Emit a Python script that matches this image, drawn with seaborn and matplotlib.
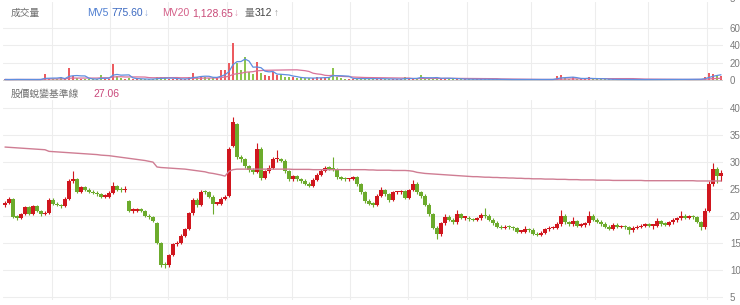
import numpy as np
import pandas as pd
import matplotlib
matplotlib.use("Agg")
import matplotlib.pyplot as plt
import seaborn as sns

# ---------------- data ----------------
opens = [22.0, 22.5, 23.2, 19.9, 19.7, 20.3, 21.6, 20.4, 21.8, 21.0,
         20.3, 20.6, 23.0, 22.3, 22.0, 21.8, 23.2, 26.5, 26.8, 24.5,
         25.3, 24.9, 24.5, 24.3, 24.0, 23.6, 23.6, 24.3, 25.5, 24.9,
         24.8, 22.8, 21.0, 21.0, 21.2, 21.0, 20.0, 19.8, 18.6, 15.0,
         10.9, 10.8, 12.8, 14.7, 15.0, 16.3, 17.5, 20.5, 23.0, 22.0,
         24.5, 24.4, 23.6, 22.3, 22.3, 23.2, 23.8, 33.0, 37.0, 31.0,
         30.5, 29.2, 28.5, 28.1, 32.5, 27.0, 28.3, 29.0, 30.5, 30.5,
         30.3, 28.3, 26.8, 27.4, 26.8, 26.5, 26.0, 25.6, 26.7, 27.6,
         28.4, 29.0, 28.8, 28.6, 27.2, 26.9, 26.8, 26.8, 27.2, 25.9,
         24.4, 22.8, 22.3, 22.1, 23.8, 24.8, 24.0, 22.9, 24.4, 24.4,
         24.6, 23.4, 24.8, 26.0, 24.4, 23.7, 22.1, 20.3, 17.8, 16.6,
         18.6, 19.8, 19.3, 18.8, 20.3, 19.7, 19.7, 19.4, 19.3, 19.6,
         20.2, 20.0, 19.3, 18.7, 18.0, 17.8, 18.0, 17.9, 17.7, 17.1,
         17.1, 17.5, 17.4, 16.7, 16.5, 16.9, 17.5, 17.8, 17.8, 18.5,
         20.0, 18.8, 18.5, 19.0, 18.2, 18.3, 18.6, 20.0, 19.3, 18.9,
         18.5, 18.0, 17.6, 18.3, 18.0, 18.0, 17.9, 17.3, 17.8, 18.0,
         18.2, 18.3, 18.2, 18.2, 19.0, 18.5, 18.4, 18.8, 19.2, 19.6,
         20.0, 19.7, 19.9, 19.8, 18.8, 17.9, 21.0, 26.0, 28.8, 27.4]

closes = [22.5, 23.2, 19.9, 19.7, 20.3, 21.6, 20.4, 21.8, 21.0, 20.3,
          20.6, 23.0, 22.3, 22.0, 21.8, 23.2, 26.5, 26.8, 24.5, 25.3,
          24.9, 24.5, 24.3, 24.0, 23.6, 23.6, 24.3, 25.5, 24.9, 24.8,
          24.9, 21.0, 21.0, 21.2, 21.0, 20.0, 19.8, 19.0, 15.0, 10.9,
          10.8, 12.8, 14.7, 15.0, 16.3, 17.5, 20.5, 23.0, 22.0, 24.5,
          24.4, 23.6, 22.3, 22.3, 23.2, 23.6, 32.5, 37.5, 31.0, 30.5,
          29.2, 28.5, 28.1, 32.5, 27.0, 28.3, 29.0, 30.5, 30.5, 30.3,
          28.3, 26.8, 27.4, 26.8, 26.5, 26.0, 25.6, 26.7, 27.6, 28.4,
          29.0, 28.8, 28.6, 27.2, 26.9, 26.8, 26.8, 27.2, 25.9, 24.4,
          22.8, 22.3, 22.1, 23.8, 24.8, 24.0, 22.9, 24.4, 24.4, 24.6,
          23.4, 24.8, 26.0, 24.4, 23.7, 22.1, 20.3, 17.8, 16.6, 18.6,
          19.8, 19.3, 18.8, 20.3, 19.7, 19.7, 19.4, 19.3, 19.6, 20.2,
          20.0, 19.3, 18.7, 18.0, 17.8, 18.0, 17.9, 17.7, 17.1, 17.1,
          17.5, 17.4, 16.7, 16.5, 16.9, 17.5, 17.8, 17.8, 18.5, 20.0,
          18.8, 18.5, 19.0, 18.2, 18.3, 18.6, 20.0, 19.3, 18.9, 18.5,
          18.0, 17.6, 18.3, 18.0, 18.0, 17.9, 17.3, 17.8, 18.0, 18.2,
          18.3, 18.2, 18.2, 19.0, 18.5, 18.4, 18.8, 19.2, 19.6, 20.0,
          19.7, 19.9, 19.8, 18.8, 17.9, 21.0, 26.0, 28.8, 27.4, 28.0]

highs = [22.8, 23.6, 23.4, 20.2, 20.6, 21.9, 21.8, 22.1, 22.0, 21.2,
         20.9, 23.4, 23.3, 22.6, 22.3, 23.5, 26.9, 28.3, 27.1, 25.6,
         25.6, 25.2, 24.8, 24.6, 24.3, 24.0, 24.6, 26.4, 25.8, 25.3,
         25.5, 23.0, 21.4, 21.5, 21.5, 21.2, 20.3, 20.0, 18.8, 15.2,
         11.4, 13.0, 15.0, 15.4, 16.6, 17.8, 20.8, 23.4, 23.3, 24.9,
         24.9, 24.7, 23.9, 22.6, 23.5, 23.9, 32.8, 38.3, 37.3, 31.4,
         30.8, 29.5, 28.9, 33.5, 32.8, 28.6, 29.4, 31.0, 32.3, 30.8,
         30.5, 28.6, 27.7, 27.6, 27.1, 26.8, 26.3, 27.0, 27.9, 28.7,
         29.3, 29.2, 31.0, 28.9, 27.5, 27.2, 27.1, 27.5, 27.4, 26.1,
         24.6, 23.1, 22.6, 24.1, 25.3, 25.0, 24.2, 24.7, 24.7, 24.9,
         24.9, 25.1, 26.6, 26.3, 24.7, 24.0, 22.4, 20.6, 18.1, 18.9,
         20.4, 20.1, 19.6, 21.2, 20.6, 20.0, 20.0, 19.7, 19.9, 20.5,
         21.5, 20.3, 19.6, 19.0, 18.3, 18.3, 18.4, 18.2, 18.0, 17.4,
         18.2, 17.8, 17.7, 17.0, 17.2, 17.8, 18.1, 18.1, 18.8, 21.2,
         20.3, 19.1, 19.8, 19.3, 18.6, 18.9, 20.9, 20.3, 19.6, 19.2,
         18.8, 18.3, 18.6, 18.6, 18.3, 18.3, 18.2, 18.1, 18.3, 18.5,
         18.6, 18.6, 18.5, 19.6, 19.3, 18.8, 19.1, 19.6, 19.9, 20.9,
         20.3, 20.2, 20.2, 20.0, 19.1, 21.5, 26.5, 29.8, 29.1, 28.5]

lows = [21.7, 22.3, 19.6, 19.3, 19.5, 20.1, 20.2, 20.2, 20.8, 20.0,
        20.1, 20.4, 22.0, 21.8, 21.5, 21.6, 23.0, 26.2, 24.2, 24.2,
        24.7, 24.3, 24.1, 23.8, 23.4, 23.3, 23.4, 24.1, 24.6, 24.5,
        24.5, 20.7, 20.6, 20.8, 20.8, 19.8, 19.5, 18.8, 14.8, 10.6,
        10.4, 10.6, 12.6, 14.4, 14.8, 16.0, 17.3, 20.2, 21.7, 21.8,
        24.1, 23.3, 20.3, 22.0, 22.1, 23.0, 23.5, 32.8, 30.6, 30.1,
        28.9, 28.1, 27.8, 27.9, 26.6, 26.8, 28.0, 28.8, 30.1, 30.0,
        28.0, 26.5, 26.5, 26.5, 26.2, 25.7, 25.3, 25.4, 26.5, 27.4,
        28.1, 28.5, 28.3, 26.9, 26.6, 26.5, 26.5, 26.6, 25.6, 24.1,
        22.5, 22.0, 21.6, 21.9, 23.5, 23.7, 22.6, 22.7, 24.1, 24.1,
        23.1, 23.1, 24.6, 24.1, 23.4, 21.8, 20.0, 17.5, 15.8, 16.3,
        18.3, 19.0, 18.5, 18.5, 19.4, 19.3, 19.1, 19.0, 19.0, 19.3,
        19.7, 19.0, 18.4, 17.7, 17.5, 17.5, 17.6, 17.4, 16.8, 16.8,
        16.8, 17.1, 16.4, 16.2, 16.3, 16.6, 17.2, 17.5, 17.5, 18.2,
        18.5, 18.2, 18.2, 17.9, 17.9, 18.0, 18.3, 19.0, 18.6, 18.2,
        17.7, 17.3, 17.3, 17.7, 17.7, 17.6, 16.6, 17.0, 17.5, 17.8,
        17.9, 17.9, 17.6, 17.9, 18.2, 18.1, 18.1, 18.5, 18.9, 19.3,
        19.4, 19.4, 19.5, 18.6, 17.4, 17.6, 20.7, 25.5, 26.2, 26.5]

baseline = [32.8, 32.75, 32.7, 32.65, 32.6, 32.55, 32.5, 32.45, 32.4, 32.35,
            32.3, 32.0, 31.95, 31.9, 31.85, 31.8, 31.75, 31.7, 31.65, 31.6,
            31.55, 31.5, 31.45, 31.4, 31.3, 31.25, 31.2, 31.1, 31.0, 30.9,
            30.8, 30.7, 30.6, 30.5, 30.4, 30.3, 30.15, 30.0, 29.1, 29.0,
            28.95, 28.9, 28.85, 28.8, 28.75, 28.7, 28.6, 28.5, 28.4, 28.3,
            28.2, 28.0, 27.9, 27.75, 27.6, 27.4, 28.3, 28.6, 28.7, 28.7,
            28.7, 28.7, 28.7, 28.7, 28.7, 28.7, 28.7, 28.7, 28.7, 28.7,
            28.7, 28.7, 28.65, 28.65, 28.65, 28.65, 28.65, 28.6, 28.6, 28.6,
            28.6, 28.6, 28.6, 28.6, 28.6, 28.6, 28.6, 28.6, 28.6, 28.6,
            28.6, 28.55, 28.55, 28.5, 28.5, 28.5, 28.5, 28.45, 28.45, 28.45,
            28.45, 28.4, 28.3, 28.1, 28.0, 27.9, 27.85, 27.8, 27.75, 27.7,
            27.65, 27.6, 27.55, 27.5, 27.45, 27.4, 27.35, 27.3, 27.3, 27.25,
            27.2, 27.2, 27.15, 27.15, 27.1, 27.1, 27.05, 27.05, 27.0, 27.0,
            26.95, 26.95, 26.9, 26.9, 26.9, 26.85, 26.85, 26.85, 26.8, 26.8,
            26.8, 26.75, 26.75, 26.75, 26.7, 26.7, 26.7, 26.7, 26.65, 26.65,
            26.65, 26.65, 26.6, 26.6, 26.6, 26.6, 26.6, 26.6, 26.6, 26.6,
            26.55, 26.55, 26.55, 26.55, 26.55, 26.55, 26.55, 26.55, 26.55, 26.55,
            26.55, 26.55, 26.55, 26.5, 26.5, 26.5, 26.5, 26.5, 26.5, 26.5]

volume = [60, 50, 80, 60, 50, 70, 60, 50, 60, 70,
          700, 150, 120, 80, 350, 120, 1400, 500, 200, 150,
          100, 90, 80, 90, 600, 100, 150, 1850, 500, 200,
          150, 250, 120, 100, 80, 90, 100, 150, 300, 300,
          200, 150, 120, 100, 100, 120, 300, 800, 300, 500,
          300, 250, 200, 250, 1150, 1200, 2000, 4250, 2000, 1200,
          2600, 900, 700, 2100, 800, 600, 500, 900, 600, 700,
          400, 300, 300, 250, 200, 200, 200, 250, 350, 250,
          300, 250, 1400, 300, 200, 150, 150, 150, 150, 200,
          200, 150, 120, 150, 150, 120, 100, 100, 120, 100,
          350, 150, 200, 150, 600, 200, 150, 200, 250, 200,
          250, 150, 100, 120, 100, 90, 80, 80, 90, 80,
          100, 80, 70, 60, 60, 60, 60, 50, 60, 50,
          50, 60, 50, 50, 60, 60, 70, 80, 450, 550,
          200, 150, 300, 150, 120, 150, 300, 150, 100, 80,
          80, 70, 60, 60, 60, 50, 60, 50, 50, 60,
          50, 50, 60, 80, 60, 50, 60, 70, 80, 90,
          80, 80, 70, 90, 120, 400, 800, 700, 600, 500]

grid_positions = [11.75, 26.25, 40.75, 55.5, 71.75, 86.25, 100.75,
                  115.5, 131.5, 147.5, 160.75, 175.5]
price_ticks = [5, 10, 15, 20, 25, 30, 35, 40]
volume_ticks = [0, 2000, 4000, 6000]
volume_tick_labels = ["0", "2000", "4000", "6000"]

# ---------------- styling ----------------
sns.set_theme(style="white")
plt.rcParams["font.family"] = ["Noto Sans CJK TC", "DejaVu Sans"]
LATIN = ["Liberation Sans", "Noto Sans CJK TC", "DejaVu Sans"]
CJK = ["Noto Sans CJK TC", "DejaVu Sans"]

UP = "#d0161e"
DOWN = "#6cab2c"
VOL_UP = "#ec5b5f"
VOL_DOWN = "#8cc44f"
GRID = "#ededed"
TICK = "#7a7a7a"

df = pd.DataFrame({"i": np.arange(len(closes)), "open": opens, "close": closes,
                   "high": highs, "low": lows, "base": baseline, "vol": volume})
df["up"] = df["close"] >= df["open"]
df["mv5"] = df["vol"].rolling(5, min_periods=1).mean()
df["mv20"] = df["vol"].rolling(20, min_periods=1).mean()

W, H = 740, 305
fig = plt.figure(figsize=(W / 100, H / 100), dpi=100)


def px_axes(x0, y0, x1, y1):
    return fig.add_axes([x0 / W, 1 - y1 / H, (x1 - x0) / W, (y1 - y0) / H])


ax_v = px_axes(3, 2, 723, 81)
ax_p = px_axes(3, 100, 723, 300)

for ax in (ax_v, ax_p):
    for s in ax.spines.values():
        s.set_visible(False)
    ax.set_xlim(-0.5, len(closes) - 0.5)
    ax.set_xticks(grid_positions)
    ax.tick_params(axis="x", length=0, labelbottom=False)
    ax.yaxis.tick_right()
    ax.tick_params(axis="y", length=0, pad=5, labelsize=7, labelcolor=TICK)
    ax.grid(True, color=GRID, linewidth=0.8)
    ax.set_axisbelow(True)
    ax.set_facecolor("none")

# ---- volume panel ----
ax_v.set_ylim(-115, 9000)
ax_v.set_yticks(volume_ticks)
ax_v.set_yticklabels(volume_tick_labels, family=LATIN)
vcol = np.where(df["up"], VOL_UP, VOL_DOWN)
ax_v.bar(df["i"], df["vol"], width=0.5, color=vcol, linewidth=0, zorder=2)
sns.lineplot(data=df, x="i", y="mv20", ax=ax_v, color="#d9739a", linewidth=0.9, zorder=3)
sns.lineplot(data=df, x="i", y="mv5", ax=ax_v, color="#5f8ee0", linewidth=0.9, zorder=4)
ax_v.set_xlabel("")
ax_v.set_ylabel("")
ax_v.axhline(0, color="#cfcfcf", linewidth=0.8, zorder=1)

# ---- price panel ----
ax_p.set_ylim(4.39, 41.54)
ax_p.set_yticks(price_ticks)
ax_p.set_yticklabels([str(t) for t in price_ticks], family=LATIN)
col = np.where(df["up"], UP, DOWN)
ax_p.vlines(df["i"], df["low"], df["high"], colors=col, linewidth=0.8, zorder=2)
body_h = np.maximum((df["close"] - df["open"]).abs(), 0.22)
body_b = np.minimum(df["open"], df["close"])
ax_p.bar(df["i"], body_h, bottom=body_b, width=0.85, color=col, linewidth=0, zorder=3)
sns.lineplot(data=df, x="i", y="base", ax=ax_p, color="#cf7d93", linewidth=1.0, zorder=4)
ax_p.set_xlabel("")
ax_p.set_ylabel("")

# ---- header texts (pieces placed one after another) ----
renderer = fig.canvas.get_renderer()


def run(x, y, pieces):
    """pieces: list of (text, color, family, size, gap_after_px)"""
    for s, color, fam, size, gap in pieces:
        txt = fig.text(x / W, 1 - y / H, s, color=color, fontsize=size,
                       ha="left", va="center", family=fam)
        bb = txt.get_window_extent(renderer=renderer)
        x += bb.width + gap


run(11, 13, [("成交量", "#707070", CJK, 7, 0)])
run(87, 13, [("MV5", "#4f7fd1", LATIN, 7.5, 3),
             ("775.60", "#3a68c0", LATIN, 7.5, 1),
             ("↓", "#8fa8d8", LATIN, 7, 0)])
run(162, 13, [("MV20", "#d45f88", LATIN, 7.5, 3),
              ("1,128.65", "#c94a78", LATIN, 7.5, 1),
              ("↓", "#d99ab3", LATIN, 7, 0)])
run(245, 13, [("量", "#777777", CJK, 7, 0),
              ("312", "#444444", LATIN, 7.5, 1),
              ("↑", "#999999", LATIN, 7, 0)])
run(11, 94, [("股價蛻變基準線", "#707070", CJK, 7, 0)])
run(93, 94, [("27.06", "#c9477a", LATIN, 7.5, 0)])

# clipped label from the panel above
run(730, -1, [("5", TICK, LATIN, 7, 0)])

fig.savefig("out.png", dpi=100)
